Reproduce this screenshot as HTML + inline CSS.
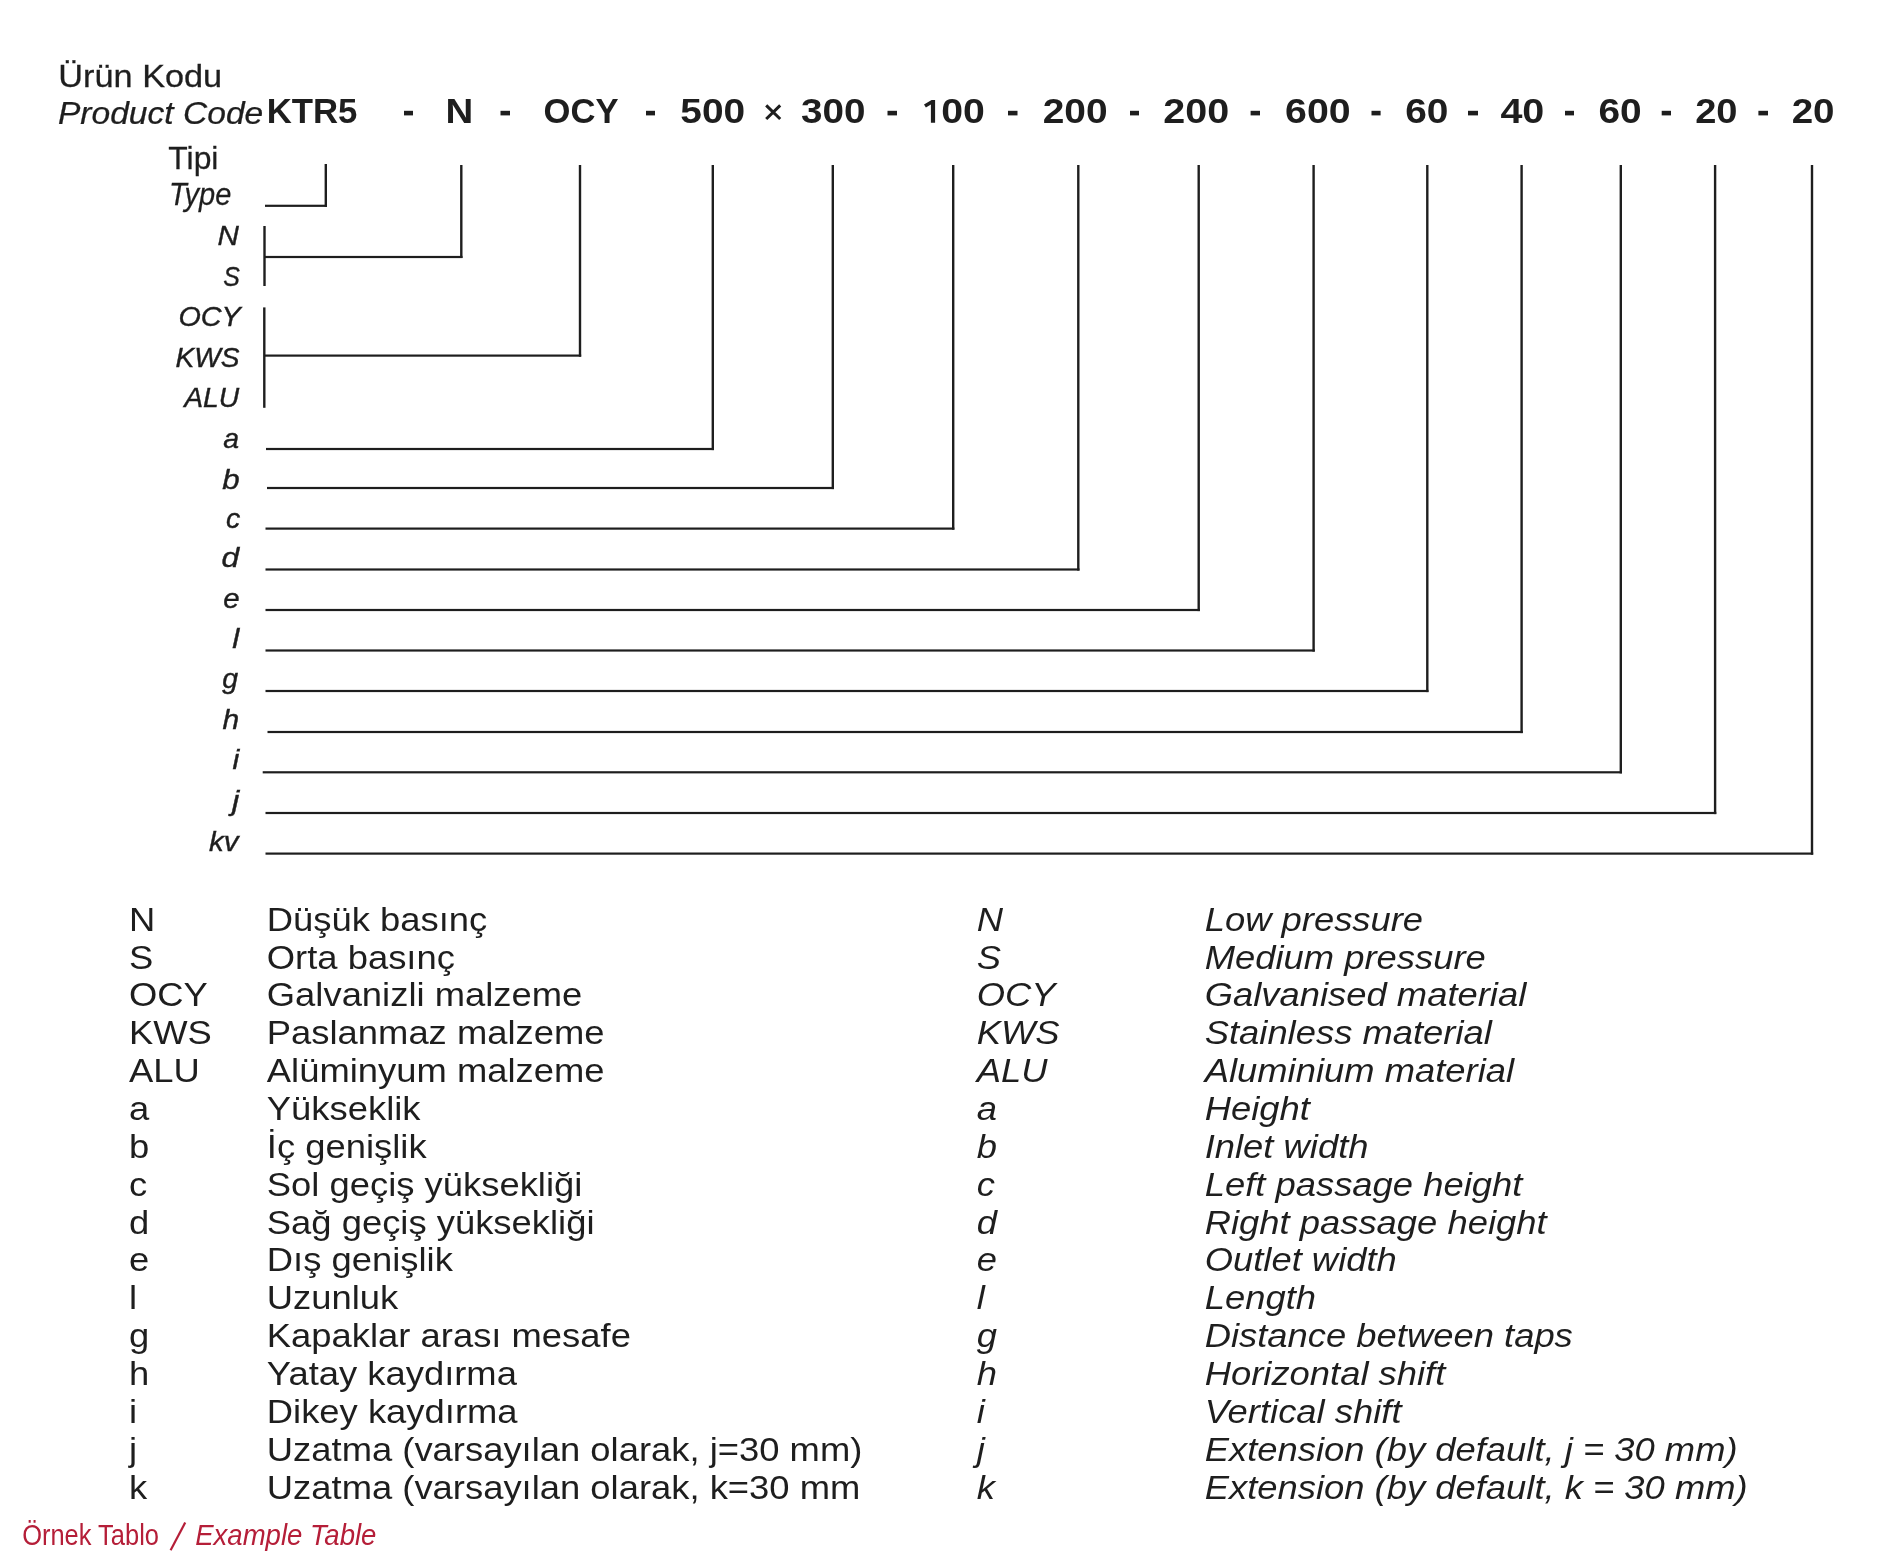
<!DOCTYPE html>
<html><head><meta charset="utf-8"><style>
html,body{margin:0;padding:0;background:#fff;}
body{width:1892px;height:1565px;overflow:hidden;}
svg{display:block;will-change:transform;font-family:"Liberation Sans",sans-serif;}
</style></head><body>
<svg width="1892" height="1565" viewBox="0 0 1892 1565">
<rect width="1892" height="1565" fill="#fff"/>
<text transform="translate(58.35,87.00) scale(1.1233,1)" font-size="30.52" font-weight="normal" font-style="normal" fill="#1e1e1e" stroke="#1e1e1e" stroke-width="0.25">Ürün Kodu</text>
<text transform="translate(57.97,124.40) scale(1.0999,1)" font-size="30.52" font-weight="normal" font-style="italic" fill="#1e1e1e" stroke="#1e1e1e" stroke-width="0.25">Product Code</text>
<text transform="translate(168.28,169.20) scale(1.0443,1)" font-size="30.52" font-weight="normal" font-style="normal" fill="#1e1e1e" stroke="#1e1e1e" stroke-width="0.25">Tipi</text>
<text transform="translate(168.89,205.20) scale(0.9518,1)" font-size="30.52" font-weight="normal" font-style="italic" fill="#1e1e1e" stroke="#1e1e1e" stroke-width="0.25">Type</text>
<text transform="translate(266.67,123.40) scale(1.0179,1)" font-size="34.16" font-weight="bold" font-style="normal" fill="#1e1e1e">KTR5</text>
<text transform="translate(445.43,123.40) scale(1.1255,1)" font-size="34.16" font-weight="bold" font-style="normal" fill="#1e1e1e">N</text>
<text transform="translate(543.58,123.40) scale(1.0130,1)" font-size="34.16" font-weight="bold" font-style="normal" fill="#1e1e1e">OCY</text>
<text transform="translate(680.30,123.40) scale(1.1387,1)" font-size="34.16" font-weight="bold" font-style="normal" fill="#1e1e1e">500</text>
<text transform="translate(801.11,123.40) scale(1.1313,1)" font-size="34.16" font-weight="bold" font-style="normal" fill="#1e1e1e">300</text>
<text transform="translate(941.15,123.40) scale(1.1492,1)" font-size="34.16" font-weight="bold" font-style="normal" fill="#1e1e1e">00</text>
<text transform="translate(1042.65,123.40) scale(1.1396,1)" font-size="34.16" font-weight="bold" font-style="normal" fill="#1e1e1e">200</text>
<text transform="translate(1163.33,123.40) scale(1.1562,1)" font-size="34.16" font-weight="bold" font-style="normal" fill="#1e1e1e">200</text>
<text transform="translate(1285.06,123.40) scale(1.1502,1)" font-size="34.16" font-weight="bold" font-style="normal" fill="#1e1e1e">600</text>
<text transform="translate(1405.18,123.40) scale(1.1375,1)" font-size="34.16" font-weight="bold" font-style="normal" fill="#1e1e1e">60</text>
<text transform="translate(1500.40,123.40) scale(1.1559,1)" font-size="34.16" font-weight="bold" font-style="normal" fill="#1e1e1e">40</text>
<text transform="translate(1598.38,123.40) scale(1.1375,1)" font-size="34.16" font-weight="bold" font-style="normal" fill="#1e1e1e">60</text>
<text transform="translate(1695.18,123.40) scale(1.1156,1)" font-size="34.16" font-weight="bold" font-style="normal" fill="#1e1e1e">20</text>
<text transform="translate(1791.66,123.40) scale(1.1297,1)" font-size="34.16" font-weight="bold" font-style="normal" fill="#1e1e1e">20</text>
<path d="M930.9,122.8 L935.1,122.8 L935.1,99.9 L931.6,99.9 L924.0,104.6 L925.9,107.6 L930.9,104.6 Z" fill="#1e1e1e"/>
<rect x="404.00" y="110.80" width="9.00" height="4.60" fill="#1e1e1e"/>
<rect x="500.50" y="110.80" width="9.50" height="4.60" fill="#1e1e1e"/>
<rect x="646.00" y="110.80" width="9.00" height="4.60" fill="#1e1e1e"/>
<rect x="887.50" y="110.80" width="9.50" height="4.60" fill="#1e1e1e"/>
<rect x="1008.00" y="110.80" width="9.50" height="4.60" fill="#1e1e1e"/>
<rect x="1130.00" y="110.80" width="9.00" height="4.60" fill="#1e1e1e"/>
<rect x="1250.60" y="110.80" width="9.40" height="4.60" fill="#1e1e1e"/>
<rect x="1371.50" y="110.80" width="9.10" height="4.60" fill="#1e1e1e"/>
<rect x="1468.00" y="110.80" width="10.00" height="4.60" fill="#1e1e1e"/>
<rect x="1565.00" y="110.80" width="9.00" height="4.60" fill="#1e1e1e"/>
<rect x="1661.70" y="110.80" width="9.30" height="4.60" fill="#1e1e1e"/>
<rect x="1758.40" y="110.80" width="9.60" height="4.60" fill="#1e1e1e"/>
<path d="M766.2,105.4 L780.2,119 M780.2,105.4 L766.2,119" stroke="#1e1e1e" stroke-width="3" fill="none"/>
<text transform="translate(217.59,245.00) scale(1.0400,1)" font-size="28.49" font-weight="normal" font-style="italic" fill="#1e1e1e" stroke="#1e1e1e" stroke-width="0.4">N</text>
<text transform="translate(223.30,285.70) scale(0.8721,1)" font-size="28.49" font-weight="normal" font-style="italic" fill="#1e1e1e" stroke="#1e1e1e" stroke-width="0.4">S</text>
<text transform="translate(178.44,326.40) scale(1.0097,1)" font-size="28.49" font-weight="normal" font-style="italic" fill="#1e1e1e" stroke="#1e1e1e" stroke-width="0.4">OCY</text>
<text transform="translate(175.43,366.60) scale(0.9889,1)" font-size="28.49" font-weight="normal" font-style="italic" fill="#1e1e1e" stroke="#1e1e1e" stroke-width="0.4">KWS</text>
<text transform="translate(184.19,407.30) scale(0.9919,1)" font-size="28.49" font-weight="normal" font-style="italic" fill="#1e1e1e" stroke="#1e1e1e" stroke-width="0.4">ALU</text>
<text transform="translate(223.36,447.50) scale(0.9979,1)" font-size="28.49" font-weight="normal" font-style="italic" fill="#1e1e1e" stroke="#1e1e1e" stroke-width="0.4">a</text>
<text transform="translate(222.16,488.80) scale(1.0986,1)" font-size="28.49" font-weight="normal" font-style="italic" fill="#1e1e1e" stroke="#1e1e1e" stroke-width="0.4">b</text>
<text transform="translate(226.07,527.80) scale(1.0006,1)" font-size="28.49" font-weight="normal" font-style="italic" fill="#1e1e1e" stroke="#1e1e1e" stroke-width="0.4">c</text>
<text transform="translate(221.53,566.80) scale(1.1129,1)" font-size="28.49" font-weight="normal" font-style="italic" fill="#1e1e1e" stroke="#1e1e1e" stroke-width="0.4">d</text>
<text transform="translate(223.31,607.70) scale(1.0342,1)" font-size="28.49" font-weight="normal" font-style="italic" fill="#1e1e1e" stroke="#1e1e1e" stroke-width="0.4">e</text>
<text transform="translate(232.29,648.00) scale(1.1060,1)" font-size="28.49" font-weight="normal" font-style="italic" fill="#1e1e1e" stroke="#1e1e1e" stroke-width="0.4">l</text>
<text transform="translate(222.14,687.50) scale(0.9976,1)" font-size="28.49" font-weight="normal" font-style="italic" fill="#1e1e1e" stroke="#1e1e1e" stroke-width="0.4">g</text>
<text transform="translate(222.40,729.10) scale(1.0524,1)" font-size="28.49" font-weight="normal" font-style="italic" fill="#1e1e1e" stroke="#1e1e1e" stroke-width="0.4">h</text>
<text transform="translate(232.51,769.40) scale(1.0753,1)" font-size="28.49" font-weight="normal" font-style="italic" fill="#1e1e1e" stroke="#1e1e1e" stroke-width="0.4">i</text>
<text transform="translate(231.97,810.30) scale(1.1506,1)" font-size="28.49" font-weight="normal" font-style="italic" fill="#1e1e1e" stroke="#1e1e1e" stroke-width="0.4">j</text>
<text transform="translate(209.01,850.60) scale(1.0382,1)" font-size="28.49" font-weight="normal" font-style="italic" fill="#1e1e1e" stroke="#1e1e1e" stroke-width="0.4">kv</text>
<rect x="324.60" y="164.00" width="2.40" height="43.00" fill="#1e1e1e"/>
<rect x="265.00" y="204.70" width="62.00" height="2.20" fill="#1e1e1e"/>
<rect x="460.10" y="165.00" width="2.40" height="93.00" fill="#1e1e1e"/>
<rect x="264.50" y="255.90" width="198.00" height="2.20" fill="#1e1e1e"/>
<rect x="263.30" y="226.00" width="2.40" height="60.00" fill="#1e1e1e"/>
<rect x="578.80" y="165.00" width="2.40" height="191.70" fill="#1e1e1e"/>
<rect x="264.30" y="354.50" width="316.90" height="2.20" fill="#1e1e1e"/>
<rect x="263.10" y="307.40" width="2.40" height="100.40" fill="#1e1e1e"/>
<rect x="711.60" y="165.00" width="2.40" height="285.10" fill="#1e1e1e"/>
<rect x="266.00" y="447.90" width="448.00" height="2.20" fill="#1e1e1e"/>
<rect x="831.60" y="165.00" width="2.40" height="324.10" fill="#1e1e1e"/>
<rect x="267.00" y="486.90" width="567.00" height="2.20" fill="#1e1e1e"/>
<rect x="952.00" y="165.00" width="2.40" height="364.70" fill="#1e1e1e"/>
<rect x="265.50" y="527.50" width="688.90" height="2.20" fill="#1e1e1e"/>
<rect x="1077.10" y="165.00" width="2.40" height="405.60" fill="#1e1e1e"/>
<rect x="265.50" y="568.40" width="814.00" height="2.20" fill="#1e1e1e"/>
<rect x="1197.50" y="165.00" width="2.40" height="446.10" fill="#1e1e1e"/>
<rect x="265.50" y="608.90" width="934.40" height="2.20" fill="#1e1e1e"/>
<rect x="1312.40" y="165.00" width="2.40" height="486.60" fill="#1e1e1e"/>
<rect x="265.50" y="649.40" width="1049.30" height="2.20" fill="#1e1e1e"/>
<rect x="1426.10" y="165.00" width="2.40" height="527.10" fill="#1e1e1e"/>
<rect x="265.50" y="689.90" width="1163.00" height="2.20" fill="#1e1e1e"/>
<rect x="1520.40" y="165.00" width="2.40" height="568.10" fill="#1e1e1e"/>
<rect x="267.50" y="730.90" width="1255.30" height="2.20" fill="#1e1e1e"/>
<rect x="1619.60" y="165.00" width="2.40" height="608.40" fill="#1e1e1e"/>
<rect x="262.70" y="771.20" width="1359.30" height="2.20" fill="#1e1e1e"/>
<rect x="1713.90" y="165.00" width="2.40" height="649.10" fill="#1e1e1e"/>
<rect x="265.50" y="811.90" width="1450.80" height="2.20" fill="#1e1e1e"/>
<rect x="1810.80" y="165.00" width="2.40" height="689.70" fill="#1e1e1e"/>
<rect x="265.50" y="852.50" width="1547.70" height="2.20" fill="#1e1e1e"/>
<text transform="translate(128.92,930.70) scale(1.0833,1)" font-size="33.60" font-weight="normal" font-style="normal" fill="#1e1e1e">N</text>
<text transform="translate(266.82,930.70) scale(1.0833,1)" font-size="33.60" font-weight="normal" font-style="normal" fill="#1e1e1e">Düşük basınç</text>
<text transform="translate(976.71,930.70) scale(1.0833,1)" font-size="33.60" font-weight="normal" font-style="italic" fill="#1e1e1e">N</text>
<text transform="translate(1204.68,930.70) scale(1.0833,1)" font-size="33.60" font-weight="normal" font-style="italic" fill="#1e1e1e">Low pressure</text>
<text transform="translate(128.92,968.56) scale(1.0833,1)" font-size="33.60" font-weight="normal" font-style="normal" fill="#1e1e1e">S</text>
<text transform="translate(266.82,968.56) scale(1.0833,1)" font-size="33.60" font-weight="normal" font-style="normal" fill="#1e1e1e">Orta basınç</text>
<text transform="translate(976.71,968.56) scale(1.0833,1)" font-size="33.60" font-weight="normal" font-style="italic" fill="#1e1e1e">S</text>
<text transform="translate(1204.68,968.56) scale(1.0833,1)" font-size="33.60" font-weight="normal" font-style="italic" fill="#1e1e1e">Medium pressure</text>
<text transform="translate(128.92,1006.42) scale(1.0833,1)" font-size="33.60" font-weight="normal" font-style="normal" fill="#1e1e1e">OCY</text>
<text transform="translate(266.82,1006.42) scale(1.0833,1)" font-size="33.60" font-weight="normal" font-style="normal" fill="#1e1e1e">Galvanizli malzeme</text>
<text transform="translate(976.71,1006.42) scale(1.0833,1)" font-size="33.60" font-weight="normal" font-style="italic" fill="#1e1e1e">OCY</text>
<text transform="translate(1204.68,1006.42) scale(1.0833,1)" font-size="33.60" font-weight="normal" font-style="italic" fill="#1e1e1e">Galvanised material</text>
<text transform="translate(128.92,1044.28) scale(1.0833,1)" font-size="33.60" font-weight="normal" font-style="normal" fill="#1e1e1e">KWS</text>
<text transform="translate(266.82,1044.28) scale(1.0833,1)" font-size="33.60" font-weight="normal" font-style="normal" fill="#1e1e1e">Paslanmaz malzeme</text>
<text transform="translate(976.71,1044.28) scale(1.0833,1)" font-size="33.60" font-weight="normal" font-style="italic" fill="#1e1e1e">KWS</text>
<text transform="translate(1204.68,1044.28) scale(1.0833,1)" font-size="33.60" font-weight="normal" font-style="italic" fill="#1e1e1e">Stainless material</text>
<text transform="translate(128.92,1082.14) scale(1.0833,1)" font-size="33.60" font-weight="normal" font-style="normal" fill="#1e1e1e">ALU</text>
<text transform="translate(266.82,1082.14) scale(1.0833,1)" font-size="33.60" font-weight="normal" font-style="normal" fill="#1e1e1e">Alüminyum malzeme</text>
<text transform="translate(976.71,1082.14) scale(1.0833,1)" font-size="33.60" font-weight="normal" font-style="italic" fill="#1e1e1e">ALU</text>
<text transform="translate(1204.68,1082.14) scale(1.0833,1)" font-size="33.60" font-weight="normal" font-style="italic" fill="#1e1e1e">Aluminium material</text>
<text transform="translate(128.92,1120.00) scale(1.0833,1)" font-size="33.60" font-weight="normal" font-style="normal" fill="#1e1e1e">a</text>
<text transform="translate(266.82,1120.00) scale(1.0833,1)" font-size="33.60" font-weight="normal" font-style="normal" fill="#1e1e1e">Yükseklik</text>
<text transform="translate(976.71,1120.00) scale(1.0833,1)" font-size="33.60" font-weight="normal" font-style="italic" fill="#1e1e1e">a</text>
<text transform="translate(1204.68,1120.00) scale(1.0833,1)" font-size="33.60" font-weight="normal" font-style="italic" fill="#1e1e1e">Height</text>
<text transform="translate(128.92,1157.86) scale(1.0833,1)" font-size="33.60" font-weight="normal" font-style="normal" fill="#1e1e1e">b</text>
<text transform="translate(266.82,1157.86) scale(1.0833,1)" font-size="33.60" font-weight="normal" font-style="normal" fill="#1e1e1e">İç genişlik</text>
<text transform="translate(976.71,1157.86) scale(1.0833,1)" font-size="33.60" font-weight="normal" font-style="italic" fill="#1e1e1e">b</text>
<text transform="translate(1204.68,1157.86) scale(1.0833,1)" font-size="33.60" font-weight="normal" font-style="italic" fill="#1e1e1e">Inlet width</text>
<text transform="translate(128.92,1195.72) scale(1.0833,1)" font-size="33.60" font-weight="normal" font-style="normal" fill="#1e1e1e">c</text>
<text transform="translate(266.82,1195.72) scale(1.0833,1)" font-size="33.60" font-weight="normal" font-style="normal" fill="#1e1e1e">Sol geçiş yüksekliği</text>
<text transform="translate(976.71,1195.72) scale(1.0833,1)" font-size="33.60" font-weight="normal" font-style="italic" fill="#1e1e1e">c</text>
<text transform="translate(1204.68,1195.72) scale(1.0833,1)" font-size="33.60" font-weight="normal" font-style="italic" fill="#1e1e1e">Left passage height</text>
<text transform="translate(128.92,1233.58) scale(1.0833,1)" font-size="33.60" font-weight="normal" font-style="normal" fill="#1e1e1e">d</text>
<text transform="translate(266.82,1233.58) scale(1.0833,1)" font-size="33.60" font-weight="normal" font-style="normal" fill="#1e1e1e">Sağ geçiş yüksekliği</text>
<text transform="translate(976.71,1233.58) scale(1.0833,1)" font-size="33.60" font-weight="normal" font-style="italic" fill="#1e1e1e">d</text>
<text transform="translate(1204.68,1233.58) scale(1.0833,1)" font-size="33.60" font-weight="normal" font-style="italic" fill="#1e1e1e">Right passage height</text>
<text transform="translate(128.92,1271.44) scale(1.0833,1)" font-size="33.60" font-weight="normal" font-style="normal" fill="#1e1e1e">e</text>
<text transform="translate(266.82,1271.44) scale(1.0833,1)" font-size="33.60" font-weight="normal" font-style="normal" fill="#1e1e1e">Dış genişlik</text>
<text transform="translate(976.71,1271.44) scale(1.0833,1)" font-size="33.60" font-weight="normal" font-style="italic" fill="#1e1e1e">e</text>
<text transform="translate(1204.68,1271.44) scale(1.0833,1)" font-size="33.60" font-weight="normal" font-style="italic" fill="#1e1e1e">Outlet width</text>
<text transform="translate(128.92,1309.30) scale(1.0833,1)" font-size="33.60" font-weight="normal" font-style="normal" fill="#1e1e1e">l</text>
<text transform="translate(266.82,1309.30) scale(1.0833,1)" font-size="33.60" font-weight="normal" font-style="normal" fill="#1e1e1e">Uzunluk</text>
<text transform="translate(976.71,1309.30) scale(1.0833,1)" font-size="33.60" font-weight="normal" font-style="italic" fill="#1e1e1e">l</text>
<text transform="translate(1204.68,1309.30) scale(1.0833,1)" font-size="33.60" font-weight="normal" font-style="italic" fill="#1e1e1e">Length</text>
<text transform="translate(128.92,1347.16) scale(1.0833,1)" font-size="33.60" font-weight="normal" font-style="normal" fill="#1e1e1e">g</text>
<text transform="translate(266.82,1347.16) scale(1.0833,1)" font-size="33.60" font-weight="normal" font-style="normal" fill="#1e1e1e">Kapaklar arası mesafe</text>
<text transform="translate(976.71,1347.16) scale(1.0833,1)" font-size="33.60" font-weight="normal" font-style="italic" fill="#1e1e1e">g</text>
<text transform="translate(1204.68,1347.16) scale(1.0833,1)" font-size="33.60" font-weight="normal" font-style="italic" fill="#1e1e1e">Distance between taps</text>
<text transform="translate(128.92,1385.02) scale(1.0833,1)" font-size="33.60" font-weight="normal" font-style="normal" fill="#1e1e1e">h</text>
<text transform="translate(266.82,1385.02) scale(1.0833,1)" font-size="33.60" font-weight="normal" font-style="normal" fill="#1e1e1e">Yatay kaydırma</text>
<text transform="translate(976.71,1385.02) scale(1.0833,1)" font-size="33.60" font-weight="normal" font-style="italic" fill="#1e1e1e">h</text>
<text transform="translate(1204.68,1385.02) scale(1.0833,1)" font-size="33.60" font-weight="normal" font-style="italic" fill="#1e1e1e">Horizontal shift</text>
<text transform="translate(128.92,1422.88) scale(1.0833,1)" font-size="33.60" font-weight="normal" font-style="normal" fill="#1e1e1e">i</text>
<text transform="translate(266.82,1422.88) scale(1.0833,1)" font-size="33.60" font-weight="normal" font-style="normal" fill="#1e1e1e">Dikey kaydırma</text>
<text transform="translate(976.71,1422.88) scale(1.0833,1)" font-size="33.60" font-weight="normal" font-style="italic" fill="#1e1e1e">i</text>
<text transform="translate(1204.68,1422.88) scale(1.0833,1)" font-size="33.60" font-weight="normal" font-style="italic" fill="#1e1e1e">Vertical shift</text>
<text transform="translate(128.92,1460.74) scale(1.0833,1)" font-size="33.60" font-weight="normal" font-style="normal" fill="#1e1e1e">j</text>
<text transform="translate(266.82,1460.74) scale(1.0833,1)" font-size="33.60" font-weight="normal" font-style="normal" fill="#1e1e1e">Uzatma (varsayılan olarak, j=30 mm)</text>
<text transform="translate(976.71,1460.74) scale(1.0833,1)" font-size="33.60" font-weight="normal" font-style="italic" fill="#1e1e1e">j</text>
<text transform="translate(1204.68,1460.74) scale(1.0833,1)" font-size="33.60" font-weight="normal" font-style="italic" fill="#1e1e1e">Extension (by default, j = 30 mm)</text>
<text transform="translate(128.92,1498.60) scale(1.0833,1)" font-size="33.60" font-weight="normal" font-style="normal" fill="#1e1e1e">k</text>
<text transform="translate(266.82,1498.60) scale(1.0833,1)" font-size="33.60" font-weight="normal" font-style="normal" fill="#1e1e1e">Uzatma (varsayılan olarak, k=30 mm</text>
<text transform="translate(976.71,1498.60) scale(1.0833,1)" font-size="33.60" font-weight="normal" font-style="italic" fill="#1e1e1e">k</text>
<text transform="translate(1204.68,1498.60) scale(1.0833,1)" font-size="33.60" font-weight="normal" font-style="italic" fill="#1e1e1e">Extension (by default, k = 30 mm)</text>
<text transform="translate(22.19,1544.50) scale(0.8486,1)" font-size="30.00" font-weight="normal" font-style="normal" fill="#b51e38">Örnek Tablo</text>
<line x1="170.6" y1="1550.2" x2="185.2" y2="1522.6" stroke="#b51e38" stroke-width="2.2"/>
<text transform="translate(195.15,1544.50) scale(0.9189,1)" font-size="30.00" font-weight="normal" font-style="italic" fill="#b51e38">Example Table</text>
</svg>
</body></html>
